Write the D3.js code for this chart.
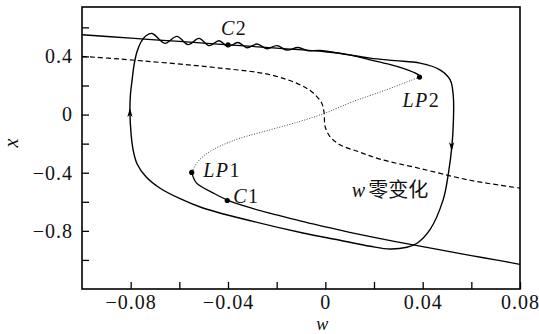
<!DOCTYPE html>
<html lang="zh">
<head>
<meta charset="utf-8">
<title>w-x phase plane</title>
<script src="https://d3js.org/d3.v7.min.js"></script>
<style>
  body { margin: 0; background: #fff; }
  svg text { font-family: "Liberation Serif", "DejaVu Serif", serif; fill: #111; }
  .cjk { font-family: "Noto Sans CJK SC", sans-serif; }
</style>
</head>
<body>
<script>
// values, each point is [w, x]
var upperBranch = [[-0.1, 0.549], [-0.08, 0.526], [-0.06, 0.503], [-0.04, 0.48], [-0.02, 0.457],
    [0, 0.432], [0.01, 0.41], [0.018, 0.378], [0.026, 0.347], [0.032, 0.318], [0.036, 0.293],
    [0.0383, 0.272], [0.0387, 0.258]];
var middleBranch = [[0.0387, 0.258], [0.0252, 0.171], [0.0115, 0.09], [-0.0001, 0.01], [-0.0104, -0.047],
    [-0.0227, -0.105], [-0.0351, -0.163], [-0.0404, -0.196], [-0.0462, -0.242], [-0.0499, -0.283],
    [-0.0527, -0.331], [-0.0549, -0.398]];
var lowerBranch = [[-0.0549, -0.398], [-0.053, -0.47], [-0.046, -0.54], [-0.04, -0.59], [-0.03, -0.645],
    [-0.02, -0.69], [-0.01, -0.733], [0, -0.772], [0.01, -0.81], [0.02, -0.845], [0.03, -0.877],
    [0.04, -0.908], [0.05, -0.94], [0.06, -0.97], [0.07, -1.0], [0.08, -1.03]];
var wNullcline = [[-0.1, 0.4], [-0.0844, 0.382], [-0.0433, 0.32], [-0.0227, 0.274], [-0.0104, 0.205],
    [-0.0051, 0.15], [-0.0015, 0.079], [-0.0005, 0.01], [-0.0001, -0.082], [0.0019, -0.151],
    [0.006, -0.208], [0.0134, -0.254], [0.0225, -0.307], [0.0389, -0.371], [0.0595, -0.452], [0.08, -0.506]];
var limitCycle = [[-0.0798, -0.139], [-0.0803, 0.012], [-0.0801, 0.136], [-0.0794, 0.239], [-0.0786, 0.342],
    [-0.0774, 0.432], [-0.0757, 0.501], [-0.0737, 0.542], [-0.0712, 0.558], [-0.0659, 0.49],
    [-0.061, 0.538], [-0.0564, 0.481], [-0.0519, 0.524], [-0.0478, 0.474], [-0.0437, 0.508],
    [-0.04, 0.468], [-0.0359, 0.496], [-0.0322, 0.46], [-0.0281, 0.485], [-0.024, 0.453],
    [-0.0199, 0.474], [-0.0158, 0.444], [-0.0112, 0.461], [-0.0071, 0.439], [-0.0022, 0.441],
    [0.008, 0.416], [0.0184, 0.388], [0.0286, 0.371], [0.0389, 0.354], [0.0471, 0.308],
    [0.0513, 0.239], [0.0526, 0.124], [0.0526, -0.058], [0.052, -0.219], [0.0506, -0.402],
    [0.0484, -0.587], [0.043, -0.792], [0.0377, -0.885], [0.0335, -0.913], [0.0266, -0.925],
    [0.0184, -0.906], [0.006, -0.865], [-0.0092, -0.815], [-0.0297, -0.735], [-0.0503, -0.643],
    [-0.0597, -0.579], [-0.0679, -0.507], [-0.0737, -0.428], [-0.0774, -0.338], [-0.079, -0.242]];
var markNames = ["C2", "LP2", "LP1", "C1"];
var markW = [-0.04, 0.0387, -0.0549, -0.0403];
var markX = [0.48, 0.258, -0.398, -0.591];
var arrowPoints = [[-0.0803, 0.045], [0.0519, -0.252]];
var arrowDirs = ["up", "down"];
var nullclineLabel = [0.0109, -0.565];
var xTicks = [-0.08, -0.06, -0.04, -0.02, 0, 0.02, 0.04, 0.06, 0.08];
var xTickLabels = ["\u22120.08", "", "\u22120.04", "", "0", "", "0.04", "", "0.08"];
var yTicks = [-1.0, -0.8, -0.6, -0.4, -0.2, 0, 0.2, 0.4, 0.6];
var yTickLabels = ["", "\u22120.8", "", "\u22120.4", "", "0", "", "0.4", ""];

var width = 539, height = 334;
var plotLeft = 82, plotRight = 520, plotTop = 7, plotBottom = 289;

var xScale = d3.scaleLinear().domain([-0.1, 0.08]).range([plotLeft, plotRight]);
var yScale = d3.scaleLinear().domain([-1.2, 0.74]).range([plotBottom, plotTop]);

var svg = d3.select("body").append("svg")
    .attr("width", width)
    .attr("height", height)
    .style("display", "block");

svg.append("rect").attr("width", width).attr("height", height).attr("fill", "#fff");

svg.append("clipPath").attr("id", "plotClip")
  .append("rect")
    .attr("x", plotLeft).attr("y", plotTop)
    .attr("width", plotRight - plotLeft).attr("height", plotBottom - plotTop);

var line = d3.line()
    .x(function(d) { return xScale(d[0]); })
    .y(function(d) { return yScale(d[1]); })
    .curve(d3.curveCatmullRom.alpha(0.5));

var plot = svg.append("g").attr("clip-path", "url(#plotClip)");

plot.append("path").datum(wNullcline)
    .attr("d", line).attr("fill", "none")
    .attr("stroke", "#000").attr("stroke-width", 1.2)
    .attr("stroke-dasharray", "5,3");

plot.append("path").datum(middleBranch)
    .attr("d", line).attr("fill", "none")
    .attr("stroke", "#333").attr("stroke-width", 0.9)
    .attr("stroke-dasharray", "1,1.6");

[upperBranch, lowerBranch].forEach(function(branch) {
  plot.append("path").datum(branch)
      .attr("d", line).attr("fill", "none")
      .attr("stroke", "#000").attr("stroke-width", 1.3);
});

var cycleLine = d3.line()
    .x(function(d) { return xScale(d[0]); })
    .y(function(d) { return yScale(d[1]); })
    .curve(d3.curveCatmullRomClosed.alpha(0.5));

plot.append("path").datum(limitCycle)
    .attr("d", cycleLine).attr("fill", "none")
    .attr("stroke", "#000").attr("stroke-width", 1.4);

// arrow heads on the cycle
plot.selectAll(".arrow")
    .data(arrowPoints)
  .enter().append("path")
    .attr("class", "arrow")
    .attr("d", "M0,0 L-2.6,9 L0,6.8 L2.6,9 Z")
    .attr("fill", "#000")
    .attr("transform", function(d, i) {
      return "translate(" + xScale(d[0]) + "," + yScale(d[1]) + ") rotate(" + (arrowDirs[i] == "up" ? 0 : 180) + ")";
    });

// marked points
var labelDx = {C2: -7, LP2: -17, LP1: 11.5, C1: 6};
var labelDy = {C2: -10, LP2: 30, LP1: 5, C1: 3};

svg.selectAll(".mark")
    .data(markNames)
  .enter().append("circle")
    .attr("class", "mark")
    .attr("cx", function(d, i) { return xScale(markW[i]); })
    .attr("cy", function(d, i) { return yScale(markX[i]); })
    .attr("r", 2.6)
    .attr("fill", "#000");

var labels = svg.selectAll(".mlabel")
    .data(markNames)
  .enter().append("text")
    .attr("class", "mlabel")
    .attr("x", function(d, i) { return xScale(markW[i]) + labelDx[d]; })
    .attr("y", function(d, i) { return yScale(markX[i]) + labelDy[d]; })
    .style("font-size", "20px");
labels.append("tspan")
    .style("font-style", "italic")
    .style("letter-spacing", "1.5px")
    .text(function(d) { return d.slice(0, -1); });
labels.append("tspan")
    .text(function(d) { return d.slice(-1); });

var nl = svg.append("text")
    .attr("x", xScale(nullclineLabel[0]))
    .attr("y", yScale(nullclineLabel[1]))
    .style("font-size", "20px");
nl.append("tspan").style("font-style", "italic").text("w");
nl.append("tspan").attr("class", "cjk").attr("dx", 3).style("font-size", "20px").text("零变化");

// axes
var xAxis = d3.axisBottom(xScale)
    .tickValues(xTicks)
    .tickSize(-7)
    .tickPadding(6)
    .tickFormat(function(d, i) { return xTickLabels[i]; });

var yAxis = d3.axisLeft(yScale)
    .tickValues(yTicks)
    .tickSize(-7)
    .tickPadding(9)
    .tickFormat(function(d, i) { return yTickLabels[i]; });

var gx = svg.append("g").attr("transform", "translate(0," + plotBottom + ")").call(xAxis);
var gy = svg.append("g").attr("transform", "translate(" + plotLeft + ",0)").call(yAxis);

[gx, gy].forEach(function(g) {
  g.select(".domain").remove();
  g.selectAll("line").attr("stroke", "#000").attr("stroke-width", 1.3);
  g.selectAll("text")
      .attr("fill", "#111")
      .style("font-family", "'Liberation Serif', serif")
      .style("font-size", "20px")
      .style("letter-spacing", "1px");
});

svg.append("rect")
    .attr("x", plotLeft).attr("y", plotTop)
    .attr("width", plotRight - plotLeft).attr("height", plotBottom - plotTop)
    .attr("fill", "none")
    .attr("stroke", "#000")
    .attr("stroke-width", 1.6);

svg.append("text")
    .attr("x", xScale(0) - 3)
    .attr("y", 329.5)
    .attr("text-anchor", "middle")
    .style("font-style", "italic")
    .style("font-size", "18px")
    .text("w");

svg.append("text")
    .attr("transform", "translate(18,143) rotate(-90)")
    .attr("text-anchor", "middle")
    .style("font-style", "italic")
    .style("font-size", "20px")
    .text("x");
</script>
</body>
</html>
